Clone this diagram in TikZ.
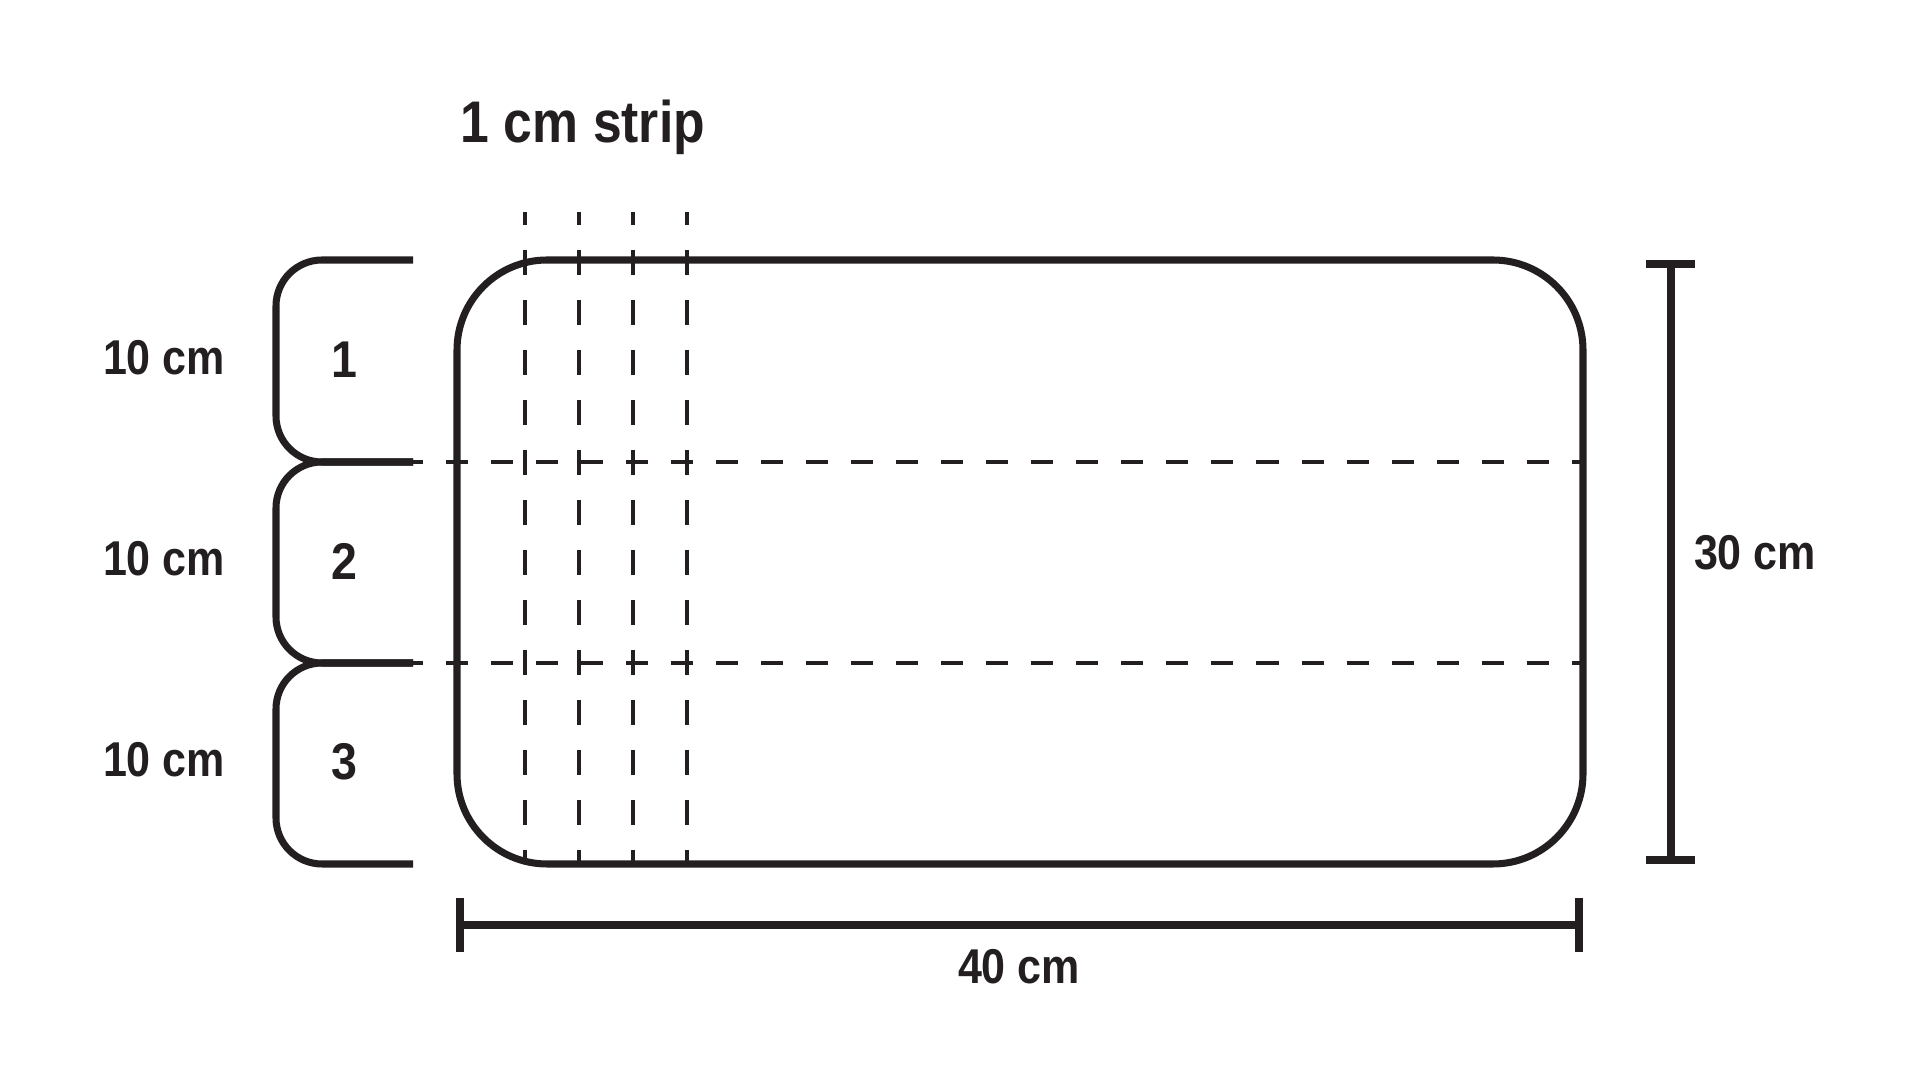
\documentclass[tikz,border=0pt]{standalone}
\usepackage{fontspec}
\setmainfont{Liberation Sans}
\definecolor{ink}{RGB}{35,31,32}
\tikzset{
  solidline/.style={draw=ink, line width=2pt},
  dimline/.style={draw=ink, line width=2.3pt},
  hdash/.style={draw=ink, line width=0.95pt, dash pattern=on 0.22cm off 0.23cm, dash phase=0.12cm},
  vdash/.style={draw=ink, line width=0.95pt, dash pattern=on 0.25cm off 0.25cm, dash phase=0.12cm},
  lbl/.style={text=ink, inner sep=0pt, font=\fontsize{13.9pt}{16pt}\selectfont\bfseries, xscale=0.88},
  numlbl/.style={text=ink, inner sep=0pt, font=\fontsize{14.7pt}{17pt}\selectfont\bfseries, xscale=0.9},
  titlelbl/.style={text=ink, inner sep=0pt, font=\fontsize{16.7pt}{19pt}\selectfont\bfseries, xscale=0.88}
}
\begin{document}
\begin{tikzpicture}[x=0.01cm, y=-0.01cm]
\useasboundingbox (0,0) rectangle (1920,1080);
% vertical strip lines
\foreach \xx/\nm in {525/va,579/vb,633/vc,687/vd}{
  \coordinate (\nm t) at (\xx,212);
  \coordinate (\nm b) at (\xx,864);
  \draw[vdash] (\nm t) -- (\nm b);
}
% horizontal dashed division lines
\coordinate (h1l) at (413,462); \coordinate (h1r) at (1583,462);
\coordinate (h2l) at (413,663); \coordinate (h2r) at (1583,663);
\draw[hdash] (h1l) -- (h1r);
\draw[hdash] (h2l) -- (h2r);
% main rounded rectangle
\coordinate (rtl) at (457,260);
\coordinate (rbr) at (1583,864);
\draw[solidline, rounded corners=0.9cm] (rtl) rectangle (rbr);
% brackets
\foreach \ya/\yb in {260/462, 462/663, 663/864}{
  \draw[solidline, rounded corners=0.46cm] (413,\ya) -| (276,\yb) -- (413,\yb);
}
% bracket labels
\node[numlbl] (n1) at (344,360) {1};
\node[numlbl] (n2) at (344,561) {2};
\node[numlbl] (n3) at (344,762) {3};
\node[lbl] (l1) at (164,358) {10 cm};
\node[lbl] (l2) at (164,559) {10 cm};
\node[lbl] (l3) at (164,760) {10 cm};
% title
\node[titlelbl] (title) at (583,127) {1 cm strip};
% right dimension
\coordinate (rdt) at (1671,264);
\coordinate (rdb) at (1671,860);
\draw[dimline] (rdt) -- (rdb);
\draw[dimline] (1646,264) -- (1695,264);
\draw[dimline] (1646,860) -- (1695,860);
\node[lbl] (h30) at (1755,553) {30 cm};
% bottom dimension
\coordinate (bdl) at (460,925);
\coordinate (bdr) at (1579,925);
\draw[dimline] (bdl) -- (bdr);
\draw[dimline] (460,898) -- (460,952);
\draw[dimline] (1579,898) -- (1579,952);
\node[lbl] (w40) at (1019,967) {40 cm};
\end{tikzpicture}
\end{document}
